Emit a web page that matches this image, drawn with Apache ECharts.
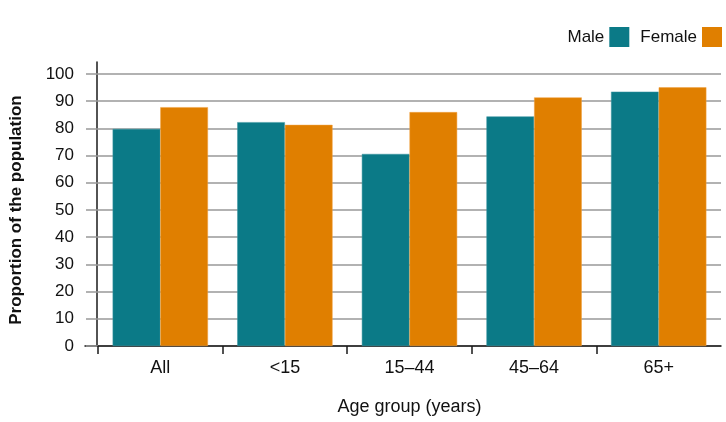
<!DOCTYPE html>
<html>
<head>
<meta charset="utf-8">
<script src="https://cdn.jsdelivr.net/npm/echarts@6/dist/echarts.min.js"></script>
<style>html,body{margin:0;padding:0;background:#fff}#c{width:726px;height:422px}</style>
</head>
<body>
<div id="c"></div>
<script>
const categories = ['All', '<15', '15–44', '45–64', '65+'];
const male = [79.8, 82.3, 70.6, 84.4, 93.5];
const female = [87.8, 81.3, 86.0, 91.4, 95.1];
const yTicks = [0, 10, 20, 30, 40, 50, 60, 70, 80, 90, 100];

const FONT = '"Liberation Sans", Arial, Helvetica, sans-serif';
const TEXT = '#111';
const chart = echarts.init(document.getElementById('c'));
chart.setOption({
  animation: false,
  textStyle: { fontFamily: FONT },
  legend: {
    data: ['Male', 'Female'],
    align: 'right',
    right: 4, top: 27, padding: 0,
    itemWidth: 20, itemHeight: 20, itemGap: 11,
    icon: 'rect',
    itemStyle: { borderWidth: 0 },
    textStyle: { fontSize: 17, color: TEXT, fontFamily: FONT }
  },
  grid: [
    { left: 97, right: 5, top: 74, bottom: 76, containLabel: false },
    { left: 85, right: 5, top: 62, bottom: 76, containLabel: false }
  ],
  xAxis: [
    {
      gridIndex: 0, type: 'category', data: categories, position: 'bottom',
      axisLine: { show: false },
      axisTick: { show: false },
      axisLabel: { fontSize: 18, color: TEXT, margin: 13, fontFamily: FONT },
      name: 'Age group (years)', nameLocation: 'middle', nameGap: 52,
      nameTextStyle: { fontSize: 18, color: TEXT, fontFamily: FONT }
    },
    {
      gridIndex: 1, type: 'value', min: 0, max: 1, position: 'bottom',
      axisLine: { show: true, onZero: false, lineStyle: { color: '#1a1a1a', width: 1.5 } },
      axisTick: { show: false }, axisLabel: { show: false }, splitLine: { show: false }
    },
    {
      gridIndex: 0, type: 'value', min: 0, max: categories.length, position: 'bottom',
      axisLine: { show: false, onZero: false },
      axisTick: { show: true, length: 8, customValues: categories.map((_, i) => i),
        lineStyle: { color: '#1a1a1a', width: 1.5 } },
      axisLabel: { show: false }, splitLine: { show: false }
    }
  ],
  yAxis: [
    {
      gridIndex: 0, type: 'value', min: yTicks[0], max: yTicks[yTicks.length - 1], interval: yTicks[1] - yTicks[0],
      axisLine: { show: false },
      axisTick: { show: true, length: 12, lineStyle: { color: '#999', width: 1.5 } },
      axisLabel: { fontSize: 17, color: TEXT, margin: 24, fontFamily: FONT },
      splitLine: { show: true, lineStyle: { color: '#999', width: 1.5 } },
      name: 'Proportion of the population', nameLocation: 'middle', nameRotate: 90, nameGap: 73,
      nameTextStyle: { fontSize: 17, fontWeight: 'bold', color: TEXT, fontFamily: FONT }
    },
    {
      gridIndex: 1, type: 'value', min: 0, max: 1, offset: -12,
      axisLine: { show: true, onZero: false, lineStyle: { color: '#1a1a1a', width: 1.5 } },
      axisTick: { show: false }, axisLabel: { show: false }, splitLine: { show: false }
    }
  ],
  series: [
    {
      name: 'Male', type: 'bar', xAxisIndex: 0, yAxisIndex: 0, data: male,
      barGap: '0%', barCategoryGap: '23.5%',
      itemStyle: { color: '#0b7a87', borderColor: '#3d95a0', borderWidth: 0.5 }
    },
    {
      name: 'Female', type: 'bar', xAxisIndex: 0, yAxisIndex: 0, data: female,
      barGap: '0%', barCategoryGap: '23.5%',
      itemStyle: { color: '#e07f00', borderColor: '#f0a040', borderWidth: 0.5 }
    }
  ]
});
</script>
</body>
</html>
